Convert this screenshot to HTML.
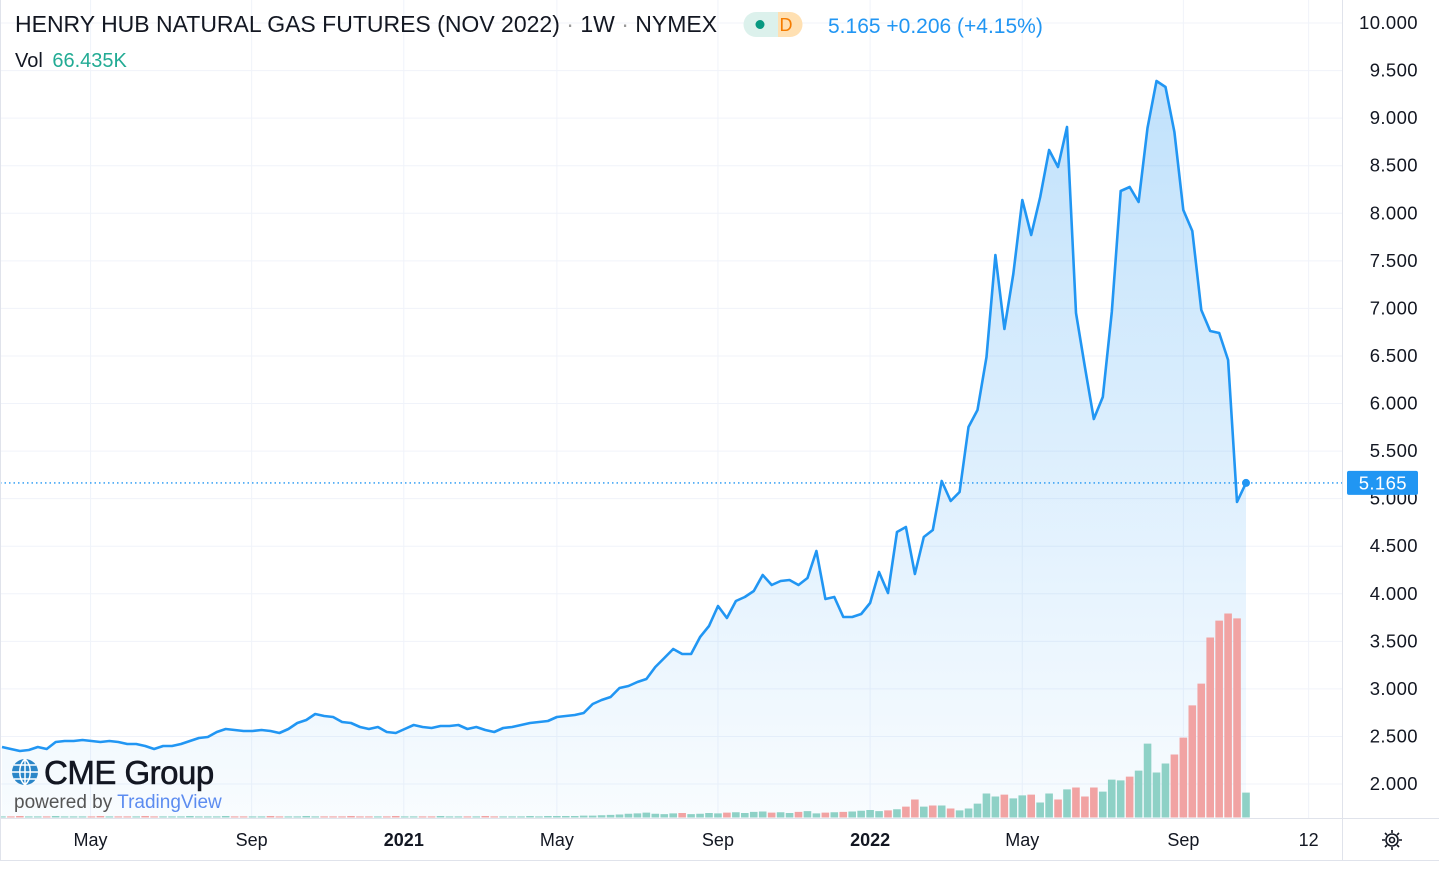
<!DOCTYPE html>
<html><head><meta charset="utf-8"><style>
body{margin:0;background:#fff;font-family:"Liberation Sans",sans-serif;}
#wrap{position:relative;width:1439px;height:869px;overflow:hidden;}
svg{position:absolute;left:0;top:0;}
</style></head><body>
<div id="wrap">
<svg id="chart" width="1439" height="869"></svg>
</div>
<script>
const prices=[2.389,2.368,2.347,2.357,2.389,2.368,2.442,2.452,2.452,2.463,2.452,2.442,2.452,2.442,2.421,2.421,2.400,2.368,2.400,2.400,
2.421,2.452,2.484,2.494,2.547,2.578,2.568,2.557,2.557,2.568,2.557,2.536,2.578,2.641,2.673,2.736,2.715,2.704,2.652,2.641,
2.599,2.578,2.599,2.547,2.536,2.578,2.620,2.599,2.589,2.610,2.610,2.620,2.578,2.599,2.568,2.547,2.589,2.599,2.620,2.641,
2.652,2.662,2.704,2.715,2.725,2.746,2.841,2.883,2.915,3.009,3.030,3.072,3.104,3.230,3.325,3.419,3.367,3.367,3.545,3.661,
3.871,3.745,3.924,3.966,4.029,4.197,4.092,4.134,4.145,4.092,4.166,4.449,3.945,3.966,3.756,3.756,3.787,3.903,4.229,4.008,
4.649,4.702,4.208,4.597,4.670,5.185,4.975,5.070,5.753,5.932,6.489,7.561,6.783,7.361,8.139,7.771,8.171,8.665,8.486,8.907,
6.951,6.384,5.837,6.068,6.962,8.234,8.276,8.118,8.896,9.390,9.327,8.854,8.034,7.813,6.983,6.762,6.741,6.457,4.965,5.165];
const volumes=[3,3,4,3,3,3,4,3,3,3,3,4,3,3,3,3,4,3,3,3,3,4,3,3,3,4,3,3,3,3,4,3,3,3,4,3,3,3,3,4,
3,3,3,3,4,3,3,3,3,4,3,3,3,3,4,3,3,3,3,4,3,4,4,4,4,5,5,6,7,8,10,11,13,10,9,11,12,9,10,12,
11,13,14,12,15,16,13,14,12,15,17,11,13,14,15,16,18,20,17,19,22,29,48,29,32,32,24,19,24,37,64,56,61,51,59,61,
40,64,48,75,80,56,80,69,101,99,109,125,197,120,144,168,213,299,357,480,525,544,531,66.4];
const lateColors="rrgrgrgggggrggrggrgrrrgggrggggrrrrrrrrg";
const priceTicks=[2,2.5,3,3.5,4,4.5,5,5.5,6,6.5,7,7.5,8,8.5,9,9.5,10];
const timeLabels=["May","Sep","2021","May","Sep","2022","May","Sep","12"];
const timeIdx=[9.9,27.9,44.9,62,80,97,114,132,146];
const lastPrice=5.165;

const NS="http://www.w3.org/2000/svg";
const svg=document.getElementById('chart');
function el(t,a,p){const e=document.createElementNS(NS,t);for(const k in a)e.setAttribute(k,a[k]);(p||svg).appendChild(e);return e;}
const yP=v=>784-(v-2)*95.125;
const xI=i=>1246-(139-i)*8.95;
const yV=v=>817.5-v*0.375;

const defs=el('defs',{});
const lg=el('linearGradient',{id:'fillg',x1:0,y1:0,x2:0,y2:1,gradientUnits:'objectBoundingBox'},defs);
el('stop',{offset:'0','stop-color':'#2196f3','stop-opacity':'0.28'},lg);
el('stop',{offset:'1','stop-color':'#2196f3','stop-opacity':'0.03'},lg);

priceTicks.forEach(t=>{const g=el('line',{x1:0,x2:1342,y1:yP(t),y2:yP(t),stroke:'#f0f3fa','stroke-width':1});

});
timeIdx.forEach(t=>{const g=el('line',{x1:xI(t),x2:xI(t),y1:0,y2:818,stroke:'#f0f3fa','stroke-width':1});

});

let d='';prices.forEach((p,i)=>{d+=(i?'L':'M')+xI(i).toFixed(1)+','+yP(p).toFixed(1);});
const area=el('path',{d:d+'L'+xI(139)+',818L'+xI(0)+',818Z',fill:'url(#fillg)'});



volumes.forEach((v,i)=>{let up;
 if(i>=101) up=lateColors[i-101]==='g'; else up=i===0?true:prices[i]>=prices[i-1];
 const r=el('rect',{x:xI(i)-3.8,y:yV(v),width:7.6,height:Math.max(817.5-yV(v),1),fill:up?'#8ed1c6':'#f1a3a3'});
 
 });

const ln=el('path',{d:d,fill:'none',stroke:'#2196f3','stroke-width':2.6,'stroke-linejoin':'round'});


const pl=el('line',{x1:0,x2:1342,y1:yP(lastPrice),y2:yP(lastPrice),stroke:'#2196f3','stroke-width':1.3,'stroke-dasharray':'1.5 3'});


const dot=el('circle',{cx:xI(139),cy:yP(prices[139]),r:4,fill:'#2196f3'});



el('line',{x1:1342.5,x2:1342.5,y1:0,y2:860,stroke:'#e0e3eb'});
el('line',{x1:0,x2:1439,y1:818.5,y2:818.5,stroke:'#e0e3eb'});
el('line',{x1:0,x2:1439,y1:860.5,y2:860.5,stroke:'#e0e3eb'});
el('line',{x1:0.5,x2:0.5,y1:0,y2:860,stroke:'#e0e3eb'});

priceTicks.forEach(t=>{const tx=el('text',{x:1418,y:yP(t)+6,'text-anchor':'end','font-size':18.5,'letter-spacing':'0.4',fill:'#131722'});
tx.textContent=t.toFixed(3);

});
const box=el('rect',{x:1347,y:yP(lastPrice)-12,width:71,height:24,rx:2,fill:'#2196f3'});


const bt=el('text',{x:1407,y:yP(lastPrice)+6.5,'text-anchor':'end','font-size':18.5,'letter-spacing':'0.4',fill:'#fff'});
bt.textContent=lastPrice.toFixed(3);



timeLabels.forEach((s,k)=>{const tx=el('text',{x:xI(timeIdx[k]),y:846,'text-anchor':'middle','font-size':18,fill:'#131722','font-weight':/^20/.test(s)?'bold':'normal'});
tx.textContent=s;

});
</script>
<svg width="1439" height="869" style="pointer-events:none">
 <g transform="translate(1392,840)" stroke="#131722" fill="none" stroke-width="1.6">
  <circle r="6"/><circle r="2.5"/>
  <path d="M0-10V-7M0 7V10M-10 0H-7M7 0H10M-7-7L-5-5M5 5L7 7M-7 7L-5 5M5-5L7-7"/>
 </g>
 <text x="15" y="32" font-size="23" fill="#131722">HENRY HUB NATURAL GAS FUTURES (NOV 2022) <tspan fill="#999">·</tspan> 1W <tspan fill="#999">·</tspan> NYMEX</text>
 <g>
  <path d="M756,12 H780 V37 H756 A12.5,12.5 0 0 1 756,12Z" fill="#dcf1ec"/>
  <path d="M778,12 H790 A12.5,12.5 0 0 1 790,37 H778Z" fill="#ffe0b2"/>
  <circle cx="760" cy="24.5" r="4.5" fill="#089981"/>
  <text x="786" y="31" text-anchor="middle" font-size="18" fill="#f57c00">D</text>
 </g>
 <text x="828" y="33" font-size="21" fill="#2196f3">5.165 +0.206 (+4.15%)</text>
 <text x="15" y="67" font-size="20" fill="#131722">Vol <tspan dx="4" fill="#22ab94">66.435K</tspan></text>
 <g>
  <circle cx="25" cy="772" r="13" fill="#2b86c8"/>
  <path d="M12,772H38M25,759V785M14,765H36M14,779H36M25,759C18,765 18,779 25,785M25,759C32,765 32,779 25,785" stroke="#fff" stroke-width="1.5" fill="none"/>
  <text x="44" y="784" font-size="33" fill="#131722" letter-spacing="-0.5" stroke="#131722" stroke-width="0.6">CME Group</text>
  <text x="14" y="808" font-size="19" fill="#555">powered by <tspan fill="#5c8cf0">TradingView</tspan></text>
 </g>
</svg>
</body></html>
